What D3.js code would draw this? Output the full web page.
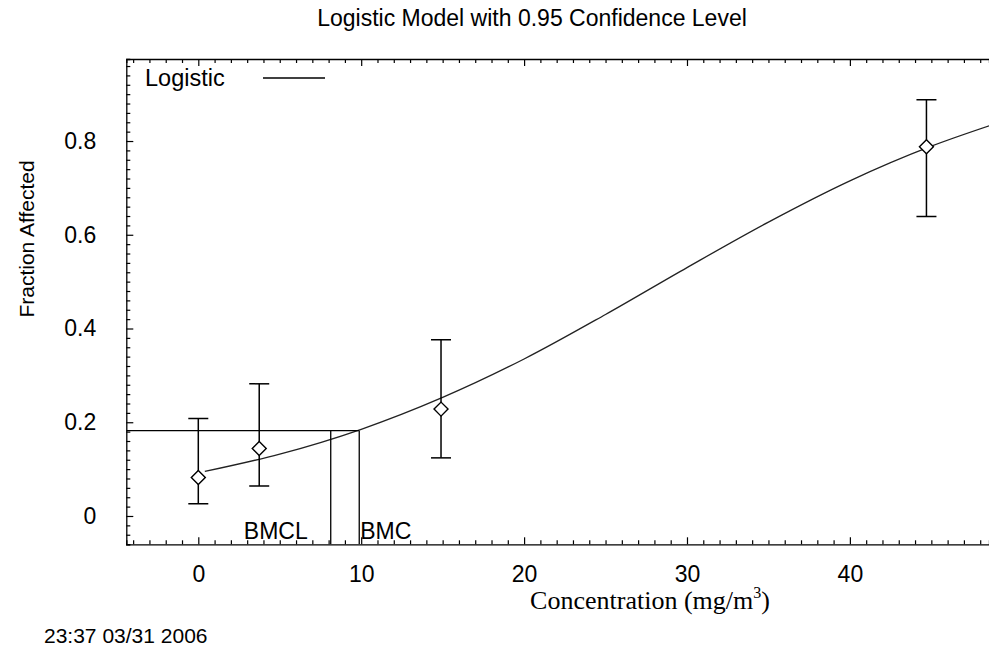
<!DOCTYPE html>
<html>
<head>
<meta charset="utf-8">
<script src="https://cdn.jsdelivr.net/npm/d3@7"></script>
<style>
  body { margin: 0; background: white; }
  text { font-family: "Liberation Sans", Arial, sans-serif; fill: black; }
</style>
</head>
<body>
<div id="chart"></div>
<script>
var width = 989,
    height = 652

// observed dose groups
var doses = [0, 3.74, 14.9, 44.7]
var observed = [0.082, 0.144, 0.228, 0.788]
var lowerCI = [0.026, 0.064, 0.124, 0.639]
var upperCI = [0.208, 0.282, 0.376, 0.888]

// fitted logistic curve
var curveX = [0.4, 5, 10, 15, 20, 25, 30, 35, 40, 45, 48.6]
var curveY = [0.095, 0.132, 0.185, 0.253, 0.335, 0.430, 0.530, 0.627, 0.715, 0.789, 0.833]

// benchmark values
var bmr = 0.182
var bmc = 9.88
var bmcl = 8.13

var xTicks = [0, 10, 20, 30, 40]
var yTicks = [0, 0.2, 0.4, 0.6, 0.8]

var pLeft = 126.3, pRight = 989, pTop = 59, pBottom = 544.3

var x = d3.scaleLinear().domain([-4.42, 48.54]).range([pLeft, pRight])
var y = d3.scaleLinear().domain([-0.0604, 0.975]).range([pBottom, pTop])

var svg = d3.select("#chart")
  .append("svg")
    .attr("width", width)
    .attr("height", height)
    .style("background-color", "white")

// minor + major ticks, drawn inward
var xMinor = d3.range(-4, 49, 1).filter(function(d) { return d % 10 != 0 })
var yMinor = d3.range(-3, 49, 1).filter(function(d) { return d % 10 != 0 }).map(function(d) { return d / 50 })

function axisLine(g) { g.select(".domain").attr("stroke", "black").attr("stroke-width", 1.3) }

svg.append("g").attr("transform", "translate(0," + pBottom + ")")
  .call(d3.axisBottom(x).tickValues(xMinor).tickSize(-4).tickFormat(""))
  .call(axisLine)
svg.append("g").attr("transform", "translate(0," + pBottom + ")")
  .call(d3.axisBottom(x).tickValues(xTicks).tickSize(-7).tickPadding(21).tickFormat(d3.format("d")))
  .call(function(g) { g.select(".domain").remove() })
  .selectAll("text").style("font-size", "23px")

svg.append("g").attr("transform", "translate(0," + pTop + ")")
  .call(d3.axisTop(x).tickValues(xMinor).tickSize(-4).tickFormat(""))
  .call(axisLine)
svg.append("g").attr("transform", "translate(0," + pTop + ")")
  .call(d3.axisTop(x).tickValues(xTicks).tickSize(-7).tickFormat(""))
  .call(function(g) { g.select(".domain").remove() })

svg.append("g").attr("transform", "translate(" + pLeft + ",0)")
  .call(d3.axisLeft(y).tickValues(yMinor).tickSize(-4).tickFormat(""))
  .call(axisLine)
svg.append("g").attr("transform", "translate(" + pLeft + ",0)")
  .call(d3.axisLeft(y).tickValues(yTicks).tickSize(-7).tickPadding(30).tickFormat(function(d) { return d == 0 ? "0" : d3.format(".1f")(d) }))
  .call(function(g) { g.select(".domain").remove() })
  .selectAll("text").style("font-size", "23px")

svg.selectAll(".tick line").attr("stroke", "black").attr("stroke-width", 1.2)

// plot area clip
svg.append("clipPath").attr("id", "clip")
  .append("rect").attr("x", pLeft).attr("y", pTop).attr("width", pRight - pLeft).attr("height", pBottom - pTop)

var plot = svg.append("g").attr("clip-path", "url(#clip)")

// fitted curve
var line = d3.line()
  .x(function(d, i) { return x(curveX[i]) })
  .y(function(d) { return y(d) })
  .curve(d3.curveMonotoneX)

plot.append("path")
  .datum(curveY)
  .attr("d", line)
  .attr("fill", "none")
  .attr("stroke", "#222")
  .attr("stroke-width", 1.3)

// BMR / BMC / BMCL lines
plot.append("line")
  .attr("x1", x(-4.42)).attr("x2", x(bmc))
  .attr("y1", y(bmr)).attr("y2", y(bmr))
  .attr("stroke", "black").attr("stroke-width", 1.3)
plot.append("line")
  .attr("x1", x(bmc)).attr("x2", x(bmc))
  .attr("y1", y(bmr)).attr("y2", pBottom)
  .attr("stroke", "black").attr("stroke-width", 1.3)
plot.append("line")
  .attr("x1", x(bmcl)).attr("x2", x(bmcl))
  .attr("y1", y(bmr)).attr("y2", pBottom)
  .attr("stroke", "black").attr("stroke-width", 1.3)

svg.append("text")
  .attr("x", x(bmcl) - 23).attr("y", pBottom - 5)
  .attr("text-anchor", "end")
  .style("font-size", "23px")
  .text("BMCL")
svg.append("text")
  .attr("x", x(bmc) + 1).attr("y", pBottom - 5)
  .style("font-size", "23px")
  .text("BMC")

// error bars
var groups = plot.selectAll(".pt")
  .data(doses)
  .enter()
  .append("g")
  .attr("class", "pt")

groups.append("line")
  .attr("x1", function(d) { return x(d) }).attr("x2", function(d) { return x(d) })
  .attr("y1", function(d, i) { return y(lowerCI[i]) }).attr("y2", function(d, i) { return y(upperCI[i]) })
  .attr("stroke", "black").attr("stroke-width", 1.5)
groups.append("line")
  .attr("x1", function(d) { return x(d) - 10 }).attr("x2", function(d) { return x(d) + 10 })
  .attr("y1", function(d, i) { return y(lowerCI[i]) }).attr("y2", function(d, i) { return y(lowerCI[i]) })
  .attr("stroke", "black").attr("stroke-width", 1.5)
groups.append("line")
  .attr("x1", function(d) { return x(d) - 10 }).attr("x2", function(d) { return x(d) + 10 })
  .attr("y1", function(d, i) { return y(upperCI[i]) }).attr("y2", function(d, i) { return y(upperCI[i]) })
  .attr("stroke", "black").attr("stroke-width", 1.5)

groups.append("path")
  .attr("d", d3.symbol().type(d3.symbolSquare).size(98))
  .attr("transform", function(d, i) { return "translate(" + x(d) + "," + y(observed[i]) + ") rotate(45)" })
  .attr("fill", "white")
  .attr("stroke", "black")
  .attr("stroke-width", 1.4)

// legend
svg.append("text")
  .attr("x", 145).attr("y", 86)
  .style("font-size", "23.5px")
  .text("Logistic")
svg.append("line")
  .attr("x1", 263).attr("x2", 325)
  .attr("y1", 78).attr("y2", 78)
  .attr("stroke", "black").attr("stroke-width", 1.3)

// title and labels
svg.append("text")
  .attr("x", 532).attr("y", 26)
  .attr("text-anchor", "middle")
  .style("font-size", "23px")
  .text("Logistic Model with 0.95 Confidence Level")

svg.append("text")
  .attr("transform", "translate(34,239) rotate(-90)")
  .attr("text-anchor", "middle")
  .style("font-size", "21px")
  .text("Fraction Affected")

var xl = svg.append("text")
  .attr("x", 650).attr("y", 609)
  .attr("text-anchor", "middle")
  .style("font-family", "'Liberation Serif', 'Times New Roman', serif")
  .style("font-size", "26px")
xl.append("tspan").text("Concentration (mg/m")
xl.append("tspan").attr("dy", -11).style("font-size", "16px").text("3")
xl.append("tspan").attr("dy", 11).text(")")

svg.append("text")
  .attr("x", 44).attr("y", 643)
  .style("font-size", "21px")
  .text("23:37 03/31 2006")
</script>
</body>
</html>
